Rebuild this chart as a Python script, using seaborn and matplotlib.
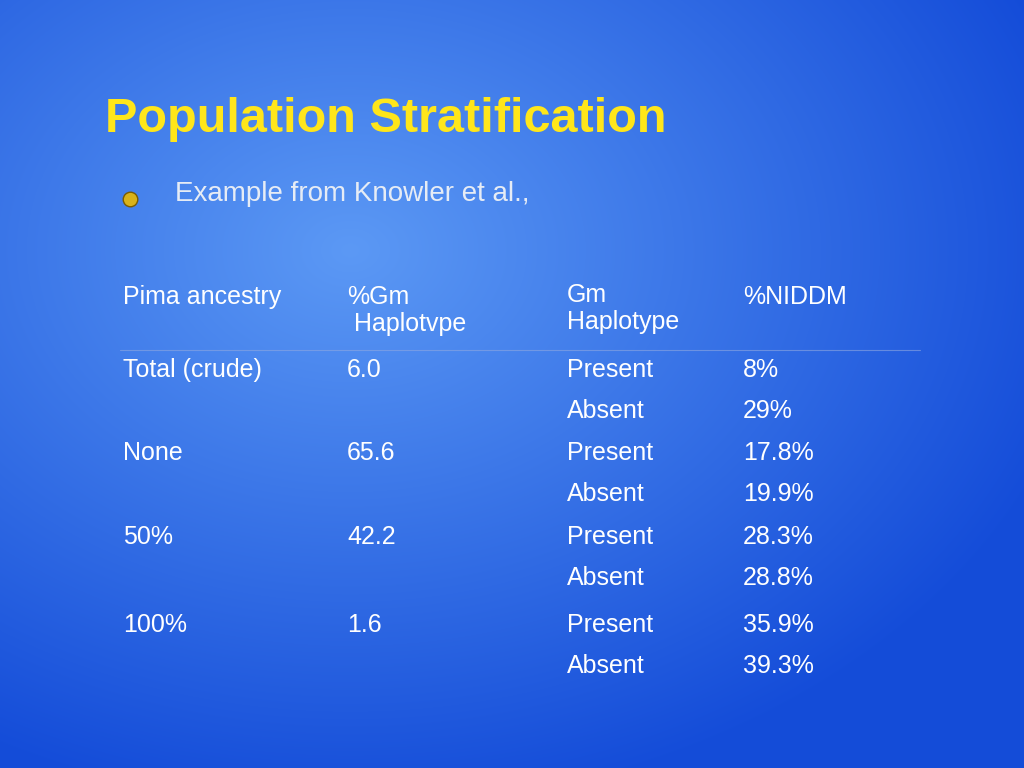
import numpy as np
import matplotlib
matplotlib.use("Agg")
import matplotlib.pyplot as plt
import seaborn as sns

sns.set_theme(style="white")
plt.rcParams["font.family"] = ["Liberation Sans", "Arial", "DejaVu Sans"]
FONT = "Liberation Sans"

title = "Population Stratification"
bullet_text = "Example from Knowler et al.,"
headers = ["Pima ancestry", "%Gm\n Haplotvpe", "Gm\nHaplotype", "%NIDDM"]
ancestry = ["Total (crude)", "", "None", "", "50%", "", "100%", ""]
gm_pct = ["6.0", "", "65.6", "", "42.2", "", "1.6", ""]
haplotype = ["Present", "Absent"] * 4
niddm = ["8%", "29%", "17.8%", "19.9%", "28.3%", "28.8%", "35.9%", "39.3%"]

fig = plt.figure(figsize=(10.24, 7.68), dpi=100)
ax = fig.add_axes([0, 0, 1, 1])
ax.set_xlim(0, 1024)
ax.set_ylim(768, 0)
ax.axis("off")

# background gradient
yy, xx = np.mgrid[0:768, 0:1024]
d = np.sqrt(((xx - 350) / 750) ** 2 + ((yy - 250) / 560) ** 2)
d = np.clip(d, 0, 1)
c0 = np.array([0.36, 0.60, 0.96])
c1 = np.array([0.08, 0.30, 0.85])
img = c0[None, None, :] * (1 - d[..., None]) + c1[None, None, :] * d[..., None]
ax.imshow(img, extent=[0, 1024, 768, 0], aspect="auto", zorder=0)

ax.text(105, 120, title, color="#FFE61A", fontsize=35, fontweight="bold",
        va="center", ha="left", fontfamily=FONT)
ax.scatter([130], [199], s=110, color="#D9B21A", edgecolor="#7a5c00", zorder=3)
ax.text(175, 194, bullet_text, color="#E6ECF5", fontsize=20, va="center",
        fontfamily=FONT)

cols = [123, 347, 567, 743]
header_y = [298, 298, 296, 298]
for x, y, h in zip(cols, header_y, headers):
    ax.text(x, y - 13, h, color="white", fontsize=18, va="top", ha="left",
            linespacing=1.15, fontfamily=FONT)
ax.plot([120, 920], [350, 350], color="#8FA8E0", lw=0.8, alpha=0.6)

row_y = [370, 411, 453, 494, 537, 578, 625, 666]
for y, a, g, hp, n in zip(row_y, ancestry, gm_pct, haplotype, niddm):
    for x, t in zip(cols, [a, g, hp, n]):
        ax.text(x, y, t, color="white", fontsize=18, va="center", ha="left",
                fontfamily=FONT)

fig.savefig("out.png", dpi=100)
